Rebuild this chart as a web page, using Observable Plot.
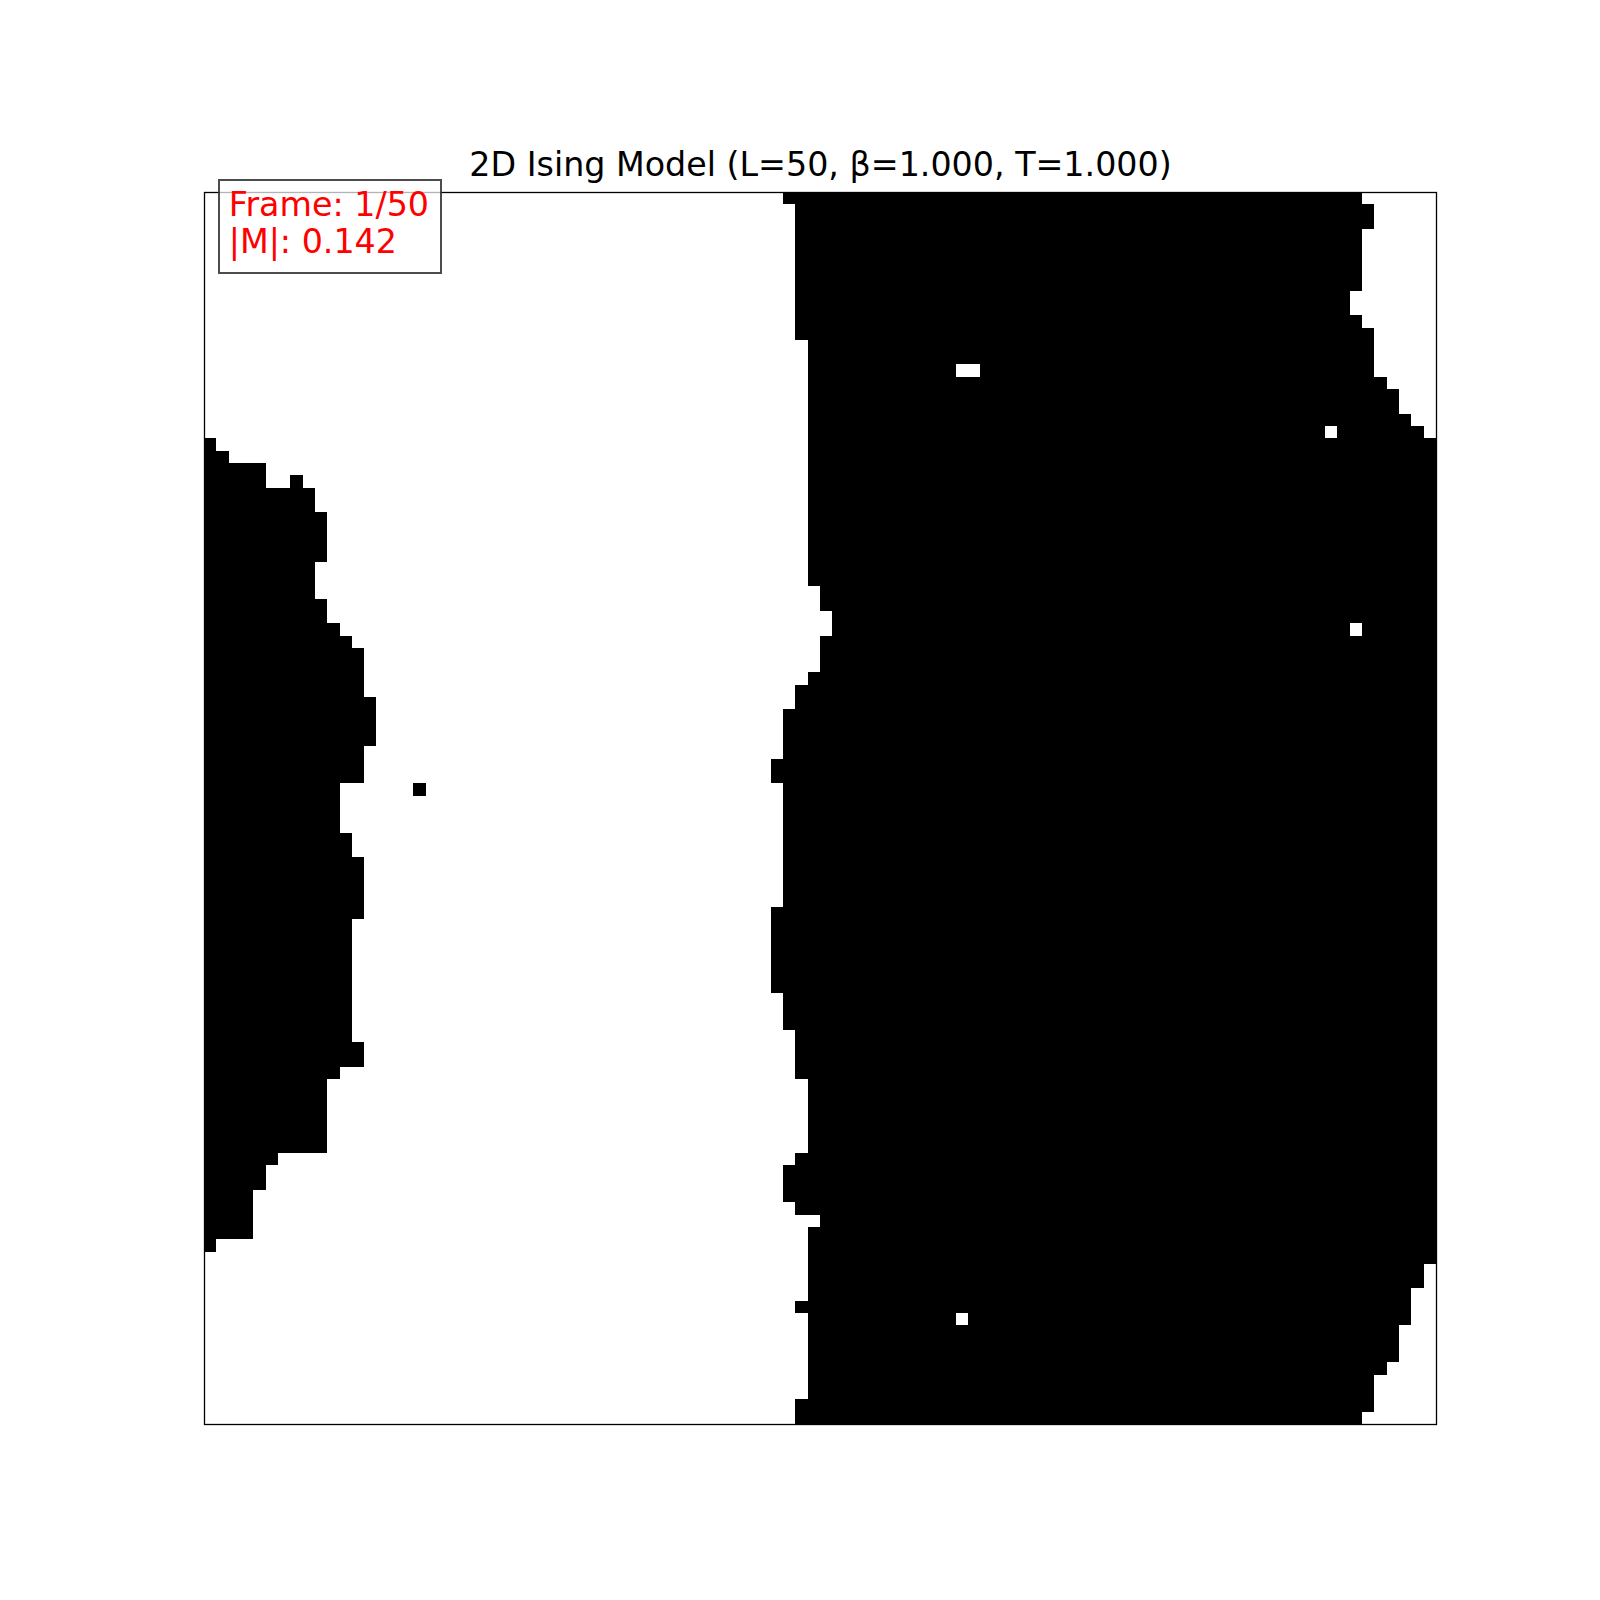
<!DOCTYPE html>
<html>
<head>
<meta charset="utf-8">
<script src="https://cdn.jsdelivr.net/npm/d3@7"></script>
<script src="https://cdn.jsdelivr.net/npm/@observablehq/plot@0.6"></script>
<style>
  body { margin: 0; background: white; font-family: "DejaVu Sans", sans-serif; }
  #wrap { position: relative; width: 1600px; height: 1600px; }
  #info {
    position: absolute; left: 217.7px; top: 179.3px; width: 224px; height: 94.7px;
    border: 2px solid rgba(0, 0, 0, 0.7); background: rgba(255, 255, 255, 0.7);
    color: red; font-size: 33.3px; line-height: 36.7px; padding: 6px 0 0 9px; box-sizing: border-box;
    white-space: pre;
  }
</style>
</head>
<body>
<div id="wrap"></div>
<script>
// Spin lattice: 100 x 100 cells, row 0 at the top
const L = 100;
const title = "2D Ising Model (L=50, β=1.000, T=1.000)";
const infoLines = ["Frame: 1/50", "|M|: 0.142"];

// Left black domain: number of black cells from column 0 in each row
const leftBlackEnd = [
  0, 0, 0, 0, 0, 0, 0, 0, 0, 0,
  0, 0, 0, 0, 0, 0, 0, 0, 0, 0,
  1, 2, 5, 5, 9, 9, 10, 10, 10, 10,
  9, 9, 9, 10, 10, 11, 12, 13, 13, 13,
  13, 14, 14, 14, 14, 13, 13, 13, 11, 11,
  11, 11, 12, 12, 13, 13, 13, 13, 13, 12,
  12, 12, 12, 12, 12, 12, 12, 12, 12, 13,
  13, 11, 10, 10, 10, 10, 10, 10, 6, 5,
  5, 4, 4, 4, 4, 1, 0, 0, 0, 0,
  0, 0, 0, 0, 0, 0, 0, 0, 0, 0
];

// Right black domain: first black column in each row
const rightBlackStart = [
  47, 48, 48, 48, 48, 48, 48, 48, 48, 48,
  48, 48, 49, 49, 49, 49, 49, 49, 49, 49,
  49, 49, 49, 49, 49, 49, 49, 49, 49, 49,
  49, 49, 50, 50, 51, 51, 50, 50, 50, 49,
  48, 48, 47, 47, 47, 47, 46, 46, 47, 47,
  47, 47, 47, 47, 47, 47, 47, 47, 46, 46,
  46, 46, 46, 46, 46, 47, 47, 47, 48, 48,
  48, 48, 49, 49, 49, 49, 49, 49, 48, 47,
  47, 47, 48, 50, 49, 49, 49, 49, 49, 49,
  48, 49, 49, 49, 49, 49, 49, 49, 48, 48
];

// Right black domain: column after the last black cell in each row
const rightBlackEnd = [
  94, 95, 95, 94, 94, 94, 94, 94, 93, 93,
  94, 95, 95, 95, 95, 96, 97, 97, 98, 99,
  100, 100, 100, 100, 100, 100, 100, 100, 100, 100,
  100, 100, 100, 100, 100, 100, 100, 100, 100, 100,
  100, 100, 100, 100, 100, 100, 100, 100, 100, 100,
  100, 100, 100, 100, 100, 100, 100, 100, 100, 100,
  100, 100, 100, 100, 100, 100, 100, 100, 100, 100,
  100, 100, 100, 100, 100, 100, 100, 100, 100, 100,
  100, 100, 100, 100, 100, 100, 100, 99, 99, 98,
  98, 98, 97, 97, 97, 96, 95, 95, 95, 94
];

// isolated flipped spins [row, col]
const strayBlack = [[23, 7], [48, 17]];
const strayWhite = [[14, 61], [14, 62], [19, 91], [35, 93], [91, 61]];

// build the grid (true = black / spin down)
const grid = d3.range(L).map((r) =>
  d3.range(L).map((c) => c < leftBlackEnd[r] || (c >= rightBlackStart[r] && c < rightBlackEnd[r]))
);
for (const [r, c] of strayBlack) grid[r][c] = true;
for (const [r, c] of strayWhite) grid[r][c] = false;

// collapse each row into runs of black cells
const runs = [];
grid.forEach((row, r) => {
  let c = 0;
  while (c < L) {
    if (row[c]) {
      let e = c;
      while (e < L && row[e]) e++;
      runs.push({row: r, c0: c, c1: e});
      c = e;
    } else c++;
  }
});

const chart = Plot.plot({
  width: 1600,
  height: 1600,
  marginLeft: 204,
  marginRight: 164,
  marginTop: 192,
  marginBottom: 176,
  style: {fontFamily: "DejaVu Sans", background: "white"},
  x: {domain: [0, L], axis: null},
  y: {domain: [0, L], reverse: true, axis: null},
  marks: [
    Plot.rect(runs, {
      x1: "c0",
      x2: "c1",
      y1: "row",
      y2: (d) => d.row + 1,
      fill: "black",
      shapeRendering: "crispEdges"
    }),
    Plot.frame({stroke: "black", strokeWidth: 1.3}),
    Plot.text([title], {
      frameAnchor: "top",
      dy: -17,
      lineAnchor: "bottom",
      fontSize: 33.3,
      fill: "black"
    })
  ]
});

const wrap = document.getElementById("wrap");
wrap.append(chart);

const info = document.createElement("div");
info.id = "info";
info.textContent = infoLines.join("\n");
wrap.append(info);
</script>
</body>
</html>
